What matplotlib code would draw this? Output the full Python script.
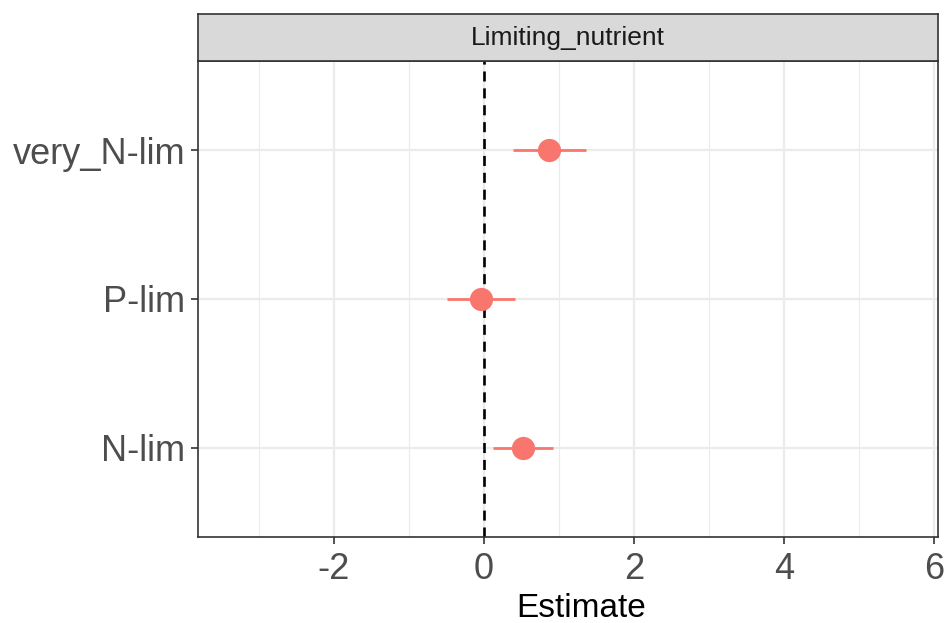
import matplotlib
matplotlib.use('Agg')
import matplotlib.pyplot as plt

plt.rcParams['font.family'] = ['Liberation Sans', 'DejaVu Sans']

# estimates with confidence intervals per limiting nutrient class
categories = ['N-lim', 'P-lim', 'very_N-lim']
estimate = [0.52, -0.04, 0.87]
ci_low = [0.12, -0.49, 0.39]
ci_high = [0.92, 0.41, 1.36]
facet_label = 'Limiting_nutrient'

point_color = '#F8766D'

fig = plt.figure(figsize=(9.47, 6.23), dpi=100)
ax = fig.add_axes([198 / 947, 86 / 623, 740 / 947, 476 / 623])

ypos = list(range(1, len(categories) + 1))

# grid lines (major + minor like theme_bw)
for x in [-3, -1, 1, 3, 5]:
    ax.axvline(x, color='#ebebeb', lw=0.8, zorder=0)
for x in [-2, 0, 2, 4, 6]:
    ax.axvline(x, color='#ebebeb', lw=1.6, zorder=0)
for y in ypos:
    ax.axhline(y, color='#ebebeb', lw=1.6, zorder=0)

ax.axvline(0, color='black', lw=1.9, ls=(0, (3.8, 2.6)), zorder=1)

ax.hlines(ypos, ci_low, ci_high, color=point_color, lw=2, zorder=2)
ax.scatter(estimate, ypos, s=280, color=point_color, zorder=3, linewidths=0)

ax.set_xlim(-3.81, 6.05)
ax.set_ylim(0.4, 3.6)
ax.set_xticks([-2, 0, 2, 4, 6])
ax.set_xticklabels(['-2', '0', '2', '4', '6'])
ax.set_yticks(ypos)
ax.set_yticklabels(categories)
ax.tick_params(axis='both', labelsize=26, labelcolor='#4d4d4d', color='#333333',
               length=5, width=1.2)
ax.tick_params(axis='y', pad=4)
ax.tick_params(axis='x', pad=6)
ax.set_xlabel('Estimate', fontsize=24, color='black', labelpad=4, x=0.5176)

for s in ax.spines.values():
    s.set_color('#333333')
    s.set_linewidth(1.2)

# facet strip on top of the panel
strip = fig.add_axes([198 / 947, 562 / 623, 740 / 947, 47 / 623])
strip.set_xticks([])
strip.set_yticks([])
strip.set_facecolor('#d9d9d9')
for s in strip.spines.values():
    s.set_color('#333333')
    s.set_linewidth(1.2)
strip.text(0.5, 0.5, facet_label, ha='center', va='center', fontsize=19,
           color='#1a1a1a', transform=strip.transAxes)

fig.savefig('out.png', dpi=100)
